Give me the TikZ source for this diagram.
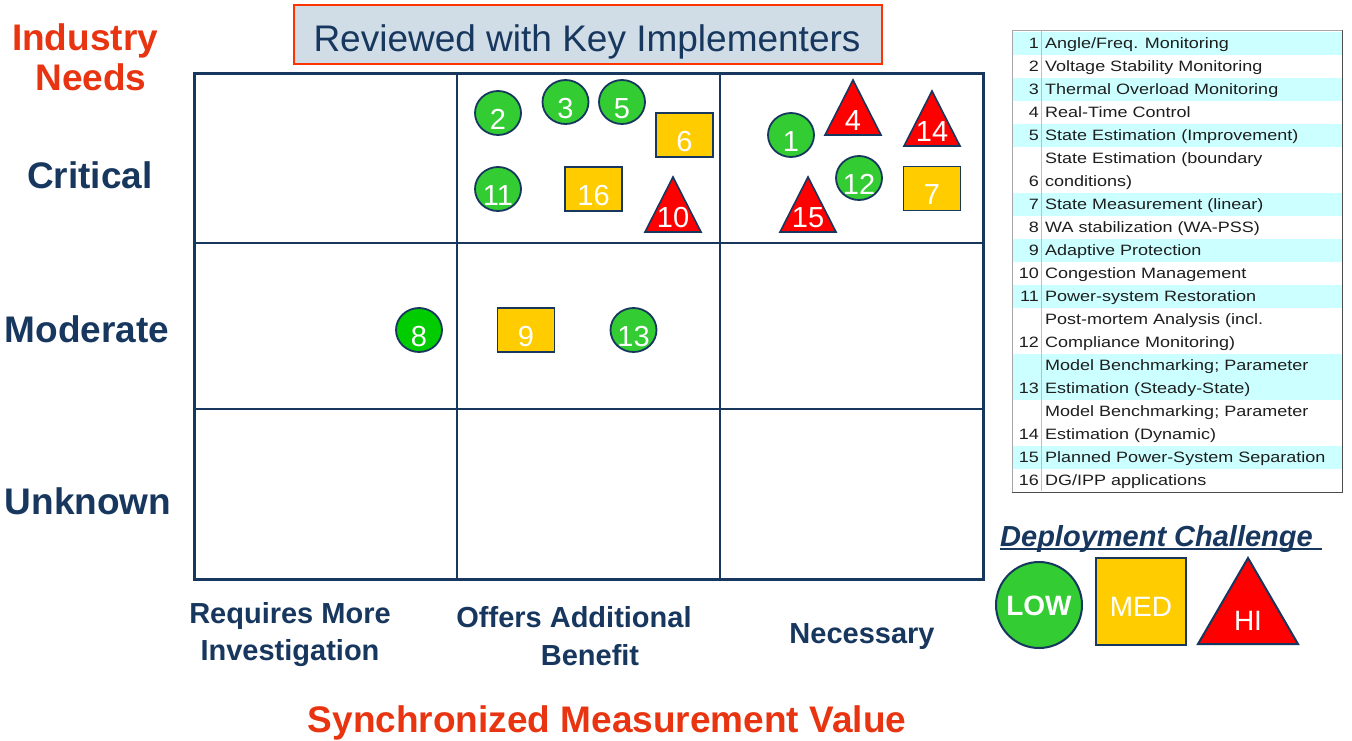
\documentclass[tikz,border=0pt]{standalone}
\usepackage{fontspec}
\setmainfont{Liberation Sans}
\newfontfamily\tabfont[FakeStretch=1.2]{Liberation Sans}
\usetikzlibrary{shapes.geometric}
\definecolor{navy}{RGB}{23,55,94}
\definecolor{redtxt}{RGB}{232,52,16}
\definecolor{lowg}{RGB}{51,204,51}
\definecolor{lowg2}{RGB}{0,204,0}
\definecolor{medy}{RGB}{255,204,0}
\definecolor{hir}{RGB}{255,0,0}
\definecolor{titlefill}{RGB}{208,220,230}
\definecolor{titleedge}{RGB}{255,51,0}
\definecolor{rowcyan}{RGB}{204,255,255}
\definecolor{tabtext}{RGB}{30,30,30}
\newcommand\lowmark[5][lowg]{%
  \node[lowc, fill=#1] (#2) at (#3,#4) {};
  \node[numtxt] (#2t) at (#3,#4+16) {#5};}
\newcommand\medmark[4]{%
  \node[medsq] (#1) at (#2,#3) {};
  \node[numtxt] (#1t) at (#2,#3+16) {#4};}
\newcommand\trimark[4]{%
  \path[hitri] (#2,#3) -- (#2+28,#3+55) -- (#2-28,#3+55) -- cycle;
  \node[numtxt] (#1) at (#2,#3+50) {#4};}
\newcommand\tline[2]{\node[tabtxt, anchor=base west] (tl#1) at (1045,{48+23*(#1-1)}) {#2};}
\newcommand\tnum[2]{\node[tabtxt, anchor=base east] (tn#1) at (1039,{48+23*(#1-1)}) {#2};}
\newcommand\crow[2]{\fill[rowcyan] (1012,{31.5+23*(#1-1)}) rectangle (1342,{31.5+23*(#2)});}
\begin{document}
\begin{tikzpicture}[x=1pt,y=-1pt,
  lowc/.style={ellipse, draw=navy, line width=1.8, minimum width=46, minimum height=44, inner sep=0},
  medsq/.style={rectangle, draw=navy, line width=1.6, fill=medy, minimum width=57, minimum height=44, inner sep=0},
  hitri/.style={draw=navy, line width=1.6, fill=hir, line join=miter},
  numtxt/.style={text=white, font=\fontsize{29}{29}\selectfont, inner sep=0, anchor=base},
  axislab/.style={text=navy, font=\bfseries\fontsize{37}{37}\selectfont, inner sep=0, anchor=base},
  bottomlab/.style={text=navy, font=\bfseries\fontsize{29}{29}\selectfont, inner sep=0, anchor=base},
  redlab/.style={text=redtxt, font=\bfseries\fontsize{37}{37}\selectfont, inner sep=0, anchor=base},
  tabtxt/.style={text=tabtext, font=\tabfont\fontsize{15}{15}\selectfont, inner sep=0},
  gridline/.style={draw=navy, line width=1.5}]
\useasboundingbox (0,0) rectangle (1352,740);
\fill[white] (0,0) rectangle (1352,740);

% title
\draw[titleedge, fill=titlefill, line width=2] (294,5) rectangle (882,64);
\node[inner sep=0, anchor=base, text=navy, font=\fontsize{37}{37}\selectfont] (title) at (587,51) {Reviewed with Key Implementers};

% left labels
\node[redlab] (ind) at (85,50) {Industry};
\node[redlab] (needs) at (91,90) {Needs};
\node[axislab] (crit) at (90,188) {Critical};
\node[axislab] (mod) at (87,342) {Moderate};
\node[axislab] (unk) at (88,514) {Unknown};

% bottom labels
\node[bottomlab] (req1) at (290,623) {Requires More};
\node[bottomlab] (req2) at (290,660) {Investigation};
\node[bottomlab] (off1) at (574,627) {Offers Additional};
\node[bottomlab] (off2) at (590,665) {Benefit};
\node[bottomlab] (nec) at (862,643) {Necessary};
\node[redlab] (smv) at (607,732) {Synchronized Measurement Value};

% grid
\draw[gridline] (457,73) -- (457,579);
\draw[gridline] (720,73) -- (720,579);
\draw[gridline] (194,243) -- (983,243);
\draw[gridline] (194,409) -- (983,409);
\draw[navy, line width=3] (194,73) rectangle (983,579);

% critical / offers
\lowmark{c2}{498}{113}{2}
\lowmark{c3}{565.5}{102}{3}
\lowmark{c5}{622}{102}{5}
\lowmark{c11}{498}{189}{11}
\medmark{s6}{684.5}{135}{6}
\medmark{s16}{593.5}{189}{16}
\trimark{t10}{673}{177}{10}
% critical / necessary
\lowmark{c1}{791}{135}{1}
\lowmark{c12}{859}{178}{12}
\trimark{t4}{853}{80}{4}
\trimark{t14}{932}{91}{14}
\trimark{t15}{808}{177}{15}
\medmark{s7}{932}{188.5}{7}
% moderate
\lowmark[lowg2]{c8}{419}{330}{8}
\medmark{s9}{526}{330}{9}
\lowmark{c13}{633.5}{330}{13}

% table
\crow{1}{1}
\crow{3}{3}
\crow{5}{5}
\crow{8}{8}
\crow{10}{10}
\crow{12}{12}
\crow{15}{16}
\crow{19}{19}
\draw[black!25, line width=1] (1041,31) -- (1041,491);
\draw[black!35, line width=0.8] (1012,492) -- (1012,30) -- (1342,30);
\draw[black!70, line width=1] (1342,30) -- (1342,492) -- (1012,492);
\tnum{1}{1}\tline{1}{Angle/Freq. Monitoring}
\tnum{2}{2}\tline{2}{Voltage Stability Monitoring}
\tnum{3}{3}\tline{3}{Thermal Overload Monitoring}
\tnum{4}{4}\tline{4}{Real-Time Control}
\tnum{5}{5}\tline{5}{State Estimation (Improvement)}
\tline{6}{State Estimation (boundary}
\tnum{7}{6}\tline{7}{conditions)}
\tnum{8}{7}\tline{8}{State Measurement (linear)}
\tnum{9}{8}\tline{9}{WA stabilization (WA-PSS)}
\tnum{10}{9}\tline{10}{Adaptive Protection}
\tnum{11}{10}\tline{11}{Congestion Management}
\tnum{12}{11}\tline{12}{Power-system Restoration}
\tline{13}{Post-mortem Analysis (incl.}
\tnum{14}{12}\tline{14}{Compliance Monitoring)}
\tline{15}{Model Benchmarking; Parameter}
\tnum{16}{13}\tline{16}{Estimation (Steady-State)}
\tline{17}{Model Benchmarking; Parameter}
\tnum{18}{14}\tline{18}{Estimation (Dynamic)}
\tnum{19}{15}\tline{19}{Planned Power-System Separation}
\tnum{20}{16}\tline{20}{DG/IPP applications}

% legend
\node[inner sep=0, anchor=base west, text=navy, font=\bfseries\itshape\fontsize{29}{29}\selectfont] (dc) at (1000,546) {Deployment Challenge};
\draw[navy, line width=2] (dc.base west) ++(0,3) coordinate (ul1) -- (1322,549) coordinate (ul2);
\node[lowc, fill=lowg, line width=2, minimum width=86, minimum height=86] (lg) at (1039,605) {};
\node[numtxt, font=\bfseries\fontsize{28}{28}\selectfont] (lgt) at (1039,615) {LOW};
\node[medsq, line width=2, minimum width=90, minimum height=87] (mg) at (1141,601.5) {};
\node[numtxt, font=\fontsize{28}{28}\selectfont] (mgt) at (1141,616) {MED};
\path[hitri, line width=2] (1248,558) -- (1298,644) -- (1198,644) -- cycle;
\node[numtxt, font=\fontsize{28}{28}\selectfont] (hgt) at (1248,630) {HI};
\end{tikzpicture}
\end{document}
